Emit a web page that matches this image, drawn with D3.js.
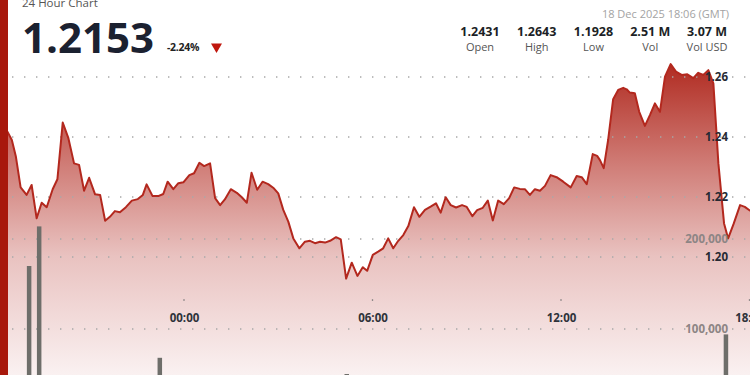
<!DOCTYPE html>
<html>
<head>
<meta charset="utf-8">
<script src="https://cdn.jsdelivr.net/npm/d3@7/dist/d3.min.js"></script>
<style>
  html, body { margin: 0; padding: 0; background: #fff; }
  svg { display: block; font-family: "Open Sans", sans-serif; }
</style>
</head>
<body>
<svg id="chart" width="750" height="375"></svg>
<script>
// ---- data ----
const hours = [-5.9,-5.62,-5.48,-5.35,-5.20,-5.01,-4.85,-4.69,-4.53,-4.37,
  -4.18,-4.03,-3.86,-3.68,-3.50,-3.34,-3.18,-3.02,-2.83,-2.67,
  -2.51,-2.36,-2.20,-2.04,-1.85,-1.66,-1.47,-1.31,-1.19,-1.00,
  -0.82,-0.66,-0.52,-0.34,-0.18,-0.02,0.17,0.32,0.49,0.64,
  0.83,0.99,1.15,1.30,1.49,1.68,1.84,2.00,2.15,2.33,
  2.50,2.68,2.86,3.00,3.16,3.32,3.48,3.67,3.85,4.01,
  4.17,4.33,4.49,4.65,4.84,4.99,5.16,5.34,5.52,5.69,
  5.83,6.01,6.18,6.34,6.50,6.66,6.82,6.98,7.14,7.32,
  7.49,7.67,7.85,8.02,8.17,8.33,8.49,8.66,8.85,9.00,
  9.18,9.33,9.51,9.67,9.83,10.00,10.18,10.35,10.51,10.69,
  10.85,11.01,11.17,11.33,11.49,11.67,11.86,12.07,12.31,12.50,
  12.66,12.82,13.01,13.15,13.24,13.36,13.50,13.66,13.82,13.98,
  14.09,14.19,14.35,14.49,14.67,14.83,14.99,15.15,15.31,15.49,
  15.66,15.84,16.02,16.21,16.37,16.53,16.69,16.85,17.01,17.19,
  17.32,17.50,17.70,17.85,18.01,18.1];
const prices = [1.2431,1.2418,1.2390,1.2334,1.2232,1.2207,1.2240,1.2129,1.2181,1.2166,
  1.2226,1.2259,1.2448,1.2396,1.2312,1.2307,1.2221,1.2264,1.2209,1.2207,
  1.2121,1.2134,1.2153,1.2149,1.2166,1.2188,1.2193,1.2207,1.2242,1.2203,
  1.2203,1.2210,1.2251,1.2226,1.2246,1.2249,1.2273,1.2279,1.2314,1.2303,
  1.2312,1.2196,1.2173,1.2192,1.2226,1.2214,1.2199,1.2181,1.2281,1.2224,
  1.2251,1.2243,1.2229,1.2212,1.2157,1.2118,1.2062,1.2029,1.2051,1.2054,
  1.2046,1.2051,1.2048,1.2054,1.2066,1.2059,1.1928,1.1981,1.1937,1.1966,
  1.1954,1.2007,1.2018,1.2029,1.2062,1.2029,1.2054,1.2073,1.2103,1.2166,
  1.2134,1.2157,1.2168,1.2179,1.2148,1.2199,1.2173,1.2165,1.2173,1.2167,
  1.2136,1.2156,1.2164,1.2188,1.2122,1.2188,1.2176,1.2196,1.2232,1.2227,
  1.2226,1.2207,1.2226,1.2221,1.2237,1.2273,1.2266,1.2251,1.2232,1.2270,
  1.2266,1.2243,1.2343,1.2337,1.2323,1.2296,1.2390,1.2526,1.2557,1.2564,
  1.2559,1.2548,1.2546,1.2484,1.2437,1.2473,1.2512,1.2484,1.2601,1.2643,
  1.2618,1.2607,1.2609,1.2596,1.2614,1.2607,1.2623,1.2579,1.2312,1.2112,
  1.2062,1.2112,1.2173,1.2167,1.2155,1.2153];
const volHours = [-4.93, -4.61, -0.77, 5.18, 17.25];
const volumes = [170000, 214000, 68000, 50000, 94000];
const priceTicks = [1.20, 1.22, 1.24, 1.26];
const volTicks = [100000, 200000];
const timeTicks = [0, 6, 12, 18];
const timeLabels = ["00:00", "06:00", "12:00", "18:00"];
const statValues = ["1.2431", "1.2643", "1.1928", "2.51 M", "3.07 M"];
const statLabels = ["Open", "High", "Low", "Vol", "Vol USD"];
const lastPrice = "1.2153";
const changePct = "-2.24%";
const titleText = "24 Hour Chart";
const dateText = "18 Dec 2025 18:06 (GMT)";

// ---- setup ----
const W = 750, H = 375;
const svg = d3.select("#chart");
const x = d3.scaleLinear().domain([0, 18]).range([184, 749.5]);
const y = d3.scaleLinear().domain([1.20, 1.26]).range([257, 77]);
const yv = d3.scaleLinear().domain([0, 200000]).range([419, 239]);
const data = hours.map((h, i) => ({h, p: prices[i]}));

// gradient
const defs = svg.append("defs");
const grad = defs.append("linearGradient").attr("id", "fillGrad")
  .attr("gradientUnits", "userSpaceOnUse").attr("x1", 0).attr("x2", 0).attr("y1", 62).attr("y2", H);
[[0, "#b02a20"], [0.33, "#d07d77"], [0.62, "#e9c2c0"], [1, "#faf1f1"]].forEach(([o, c]) =>
  grad.append("stop").attr("offset", o).attr("stop-color", c));

// area
svg.append("path").datum(data)
  .attr("d", d3.area().x(d => x(d.h)).y0(H).y1(d => y(d.p)))
  .attr("fill", "url(#fillGrad)");

// grid
const gridYs = priceTicks.map(t => y(t)).concat(volTicks.map(t => yv(t)));
svg.append("g").selectAll("line").data(gridYs).join("line")
  .attr("x1", 12).attr("x2", W).attr("y1", d => d).attr("y2", d => d)
  .attr("stroke", "#a8a8a8").attr("stroke-width", 1.3).attr("stroke-dasharray", "1.4 10.6");

// volume bars
svg.append("g").selectAll("rect").data(volHours.map((h, i) => ({h, v: volumes[i]}))).join("rect")
  .attr("x", d => x(d.h) - 2.25).attr("width", 4.5)
  .attr("y", d => yv(d.v)).attr("height", d => yv(0) - yv(d.v))
  .attr("fill", "#6e6e6a");

// line
svg.append("path").datum(data)
  .attr("d", d3.line().x(d => x(d.h)).y(d => y(d.p)))
  .attr("fill", "none").attr("stroke", "#b3281e").attr("stroke-width", 2)
  .attr("stroke-linejoin", "round");

// price axis
const pa = svg.append("g").attr("transform", "translate(728,0)")
  .call(d3.axisLeft(y).tickValues(priceTicks).tickFormat(d3.format(".2f")).tickSize(0).tickPadding(0));
pa.select(".domain").remove();
pa.selectAll("text").attr("font-size", 11.5).attr("font-weight", "bold").attr("fill", "#262a33")
  .attr("font-family", "Open Sans");

// volume axis
const va = svg.append("g").attr("transform", "translate(728,0)")
  .call(d3.axisLeft(yv).tickValues(volTicks).tickFormat(d3.format(",")).tickSize(0).tickPadding(0));
va.select(".domain").remove();
va.selectAll("text").attr("font-size", 11.5).attr("font-weight", "bold").attr("fill", "#8d8585")
  .attr("font-family", "Open Sans");

// time axis
svg.append("g").selectAll("line").data(timeTicks).join("line")
  .attr("x1", d => x(d)).attr("x2", d => x(d)).attr("y1", 299.3).attr("y2", 300.8)
  .attr("stroke", "#777").attr("stroke-width", 1.3);
const ta = svg.append("g").attr("transform", "translate(0,313.5)")
  .call(d3.axisBottom(x).tickValues(timeTicks).tickFormat((d, i) => timeLabels[i]).tickSize(0).tickPadding(0));
ta.select(".domain").remove();
ta.selectAll("text").attr("font-size", 11.5).attr("font-weight", "bold").attr("fill", "#2e323a")
  .attr("font-family", "Open Sans");

// header
svg.append("text").attr("x", 22).attr("y", 7).attr("font-size", 11.5).attr("fill", "#555")
  .text(titleText);
svg.append("text").attr("x", 22).attr("y", 53).attr("font-size", 42).attr("font-weight", "bold")
  .attr("fill", "#1b2130").text(lastPrice);
svg.append("text").attr("x", 167).attr("y", 51).attr("font-size", 10.5).attr("font-weight", "bold")
  .attr("fill", "#222").attr("letter-spacing", "-0.3").text(changePct);
svg.append("path").attr("d", "M211,43.5 L222,43.5 L216.5,53 Z").attr("fill", "#c0170e");

svg.append("text").attr("x", 729).attr("y", 18).attr("text-anchor", "end")
  .attr("font-size", 11).attr("fill", "#a3a3a3").text(dateText);
const stats = svg.append("g");
statValues.forEach((v, i) => {
  const cx = 480 + i * 56.75;
  stats.append("text").attr("x", cx).attr("y", 36).attr("text-anchor", "middle")
    .attr("font-size", 12.5).attr("font-weight", "bold").attr("fill", "#1c1f26").text(v);
  stats.append("text").attr("x", cx).attr("y", 50.5).attr("text-anchor", "middle")
    .attr("font-size", 11).attr("fill", "#555").text(statLabels[i]);
});

// left accent bar
svg.append("rect").attr("x", 0).attr("y", 0).attr("width", 8).attr("height", H).attr("fill", "#a8180c");
</script>
</body>
</html>
